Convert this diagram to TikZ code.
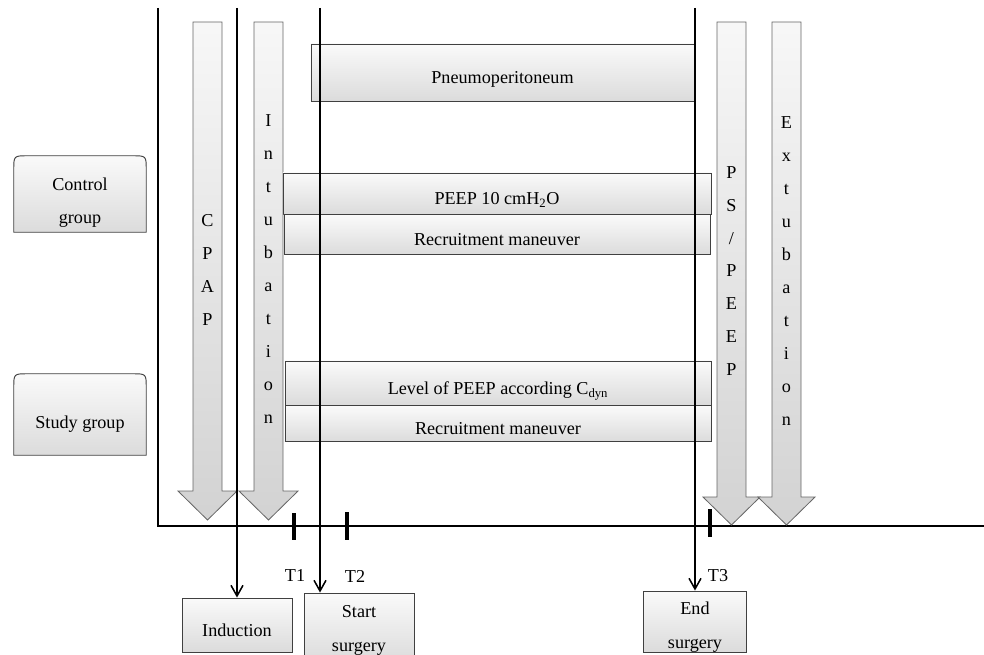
\documentclass[tikz,border=0pt]{standalone}
\usepackage{fontspec}
\setmainfont{Liberation Serif}
\usetikzlibrary{arrows.meta,positioning,calc}
\tikzset{
    bar/.style={draw=black!75, line width=0.8pt, top color=gray!4, bottom color=gray!28, inner sep=0pt, text height=19.8pt, text depth=1pt},
    grpbox/.style={inner sep=0pt, minimum width=3.96cm},
    grpfill/.style={draw=black!75, line width=0.8pt, top color=gray!4, bottom color=gray!28},
    evbox/.style={draw=black!75, line width=0.8pt, top color=gray!4, bottom color=gray!28, inner sep=0pt},
    blkarrow/.style={draw=black!60, line width=0.7pt, top color=gray!6, bottom color=gray!35},
    letters/.style={align=center, font=\fontsize{15.5}{28.1}\selectfont},
    lbl/.style={align=center, font=\fontsize{15.5}{28.5}\selectfont},
    timeline/.style={-{Straight Barb[length=3.2mm, width=3.6mm]}, line width=1.3pt},
    axisline/.style={line width=1.4pt},
    tickmark/.style={line width=3pt}
}

\begin{document}
\begin{tikzpicture}[x=0.03cm, y=-0.03cm, font=\fontsize{15.5}{18}\selectfont]
    \useasboundingbox (0,0) rectangle (984,655);
    \clip (0,0) rectangle (984,655);

    % axes
    \coordinate (ytop) at (158,8);
    \coordinate (xend) at (984,526);
    \draw[axisline] (ytop) |- (xend);

    % block arrows
    \draw[blkarrow] (193,22) -- (222,22) -- (222,491) -- (237,491) -- (207.5,520) -- (178,491) -- (193,491) -- cycle;
    \draw[blkarrow] (254,22) -- (283,22) -- (283,491) -- (298,491) -- (268.5,520) -- (239,491) -- (254,491) -- cycle;
    \draw[blkarrow] (717,22) -- (746,22) -- (746,497) -- (760,497) -- (731.5,525) -- (703,497) -- (717,497) -- cycle;
    \draw[blkarrow] (772,22) -- (801,22) -- (801,497) -- (815,497) -- (786.5,525) -- (758,497) -- (772,497) -- cycle;
    \node[letters] (cpap) at (207.5,270) {C\\P\\A\\P};
    \node[letters] (intub) at (268.5,269) {I\\n\\t\\u\\b\\a\\t\\i\\o\\n};
    \node[letters] (pspeep) at (731.5,271) {P\\S\\/\\P\\E\\E\\P};
    \node[letters] (extub) at (786.5,271) {E\\x\\t\\u\\b\\a\\t\\i\\o\\n};

    % bars
    \node[bar, minimum width=11.49cm, minimum height=1.71cm] (pneumo) at (502.5,72.5) {Pneumoperitoneum};
    \node[bar, minimum width=12.84cm, minimum height=1.23cm] (peep) at (497,193.5) {PEEP 10 cmH\textsubscript{2}O};
    \node[bar, minimum width=12.78cm, minimum height=1.2cm, below=0pt of peep] (recruitctl) {Recruitment maneuver};
    \node[bar, minimum width=12.78cm, minimum height=1.32cm] (level) at (498,383) {Level of PEEP according C\textsubscript{dyn}};
    \node[bar, minimum width=12.78cm, minimum height=1.08cm, below=0pt of level] (recruitstd) {Recruitment maneuver};

    % groups
    \node[grpbox, minimum height=2.28cm] (control) at (80,194) {};
    \node[grpbox, minimum height=2.43cm] (study) at (80,414.5) {};
    \draw[grpfill] (control.south west) -- ($(control.north west)+(0,14)$) .. controls (control.north west) .. ($(control.north west)+(14,0)$)
        -- ($(control.north east)+(-14,0)$) .. controls (control.north east) .. ($(control.north east)+(0,14)$) -- (control.south east) -- cycle;
    \draw[grpfill] (study.south west) -- ($(study.north west)+(0,14)$) .. controls (study.north west) .. ($(study.north west)+(14,0)$)
        -- ($(study.north east)+(-14,0)$) .. controls (study.north east) .. ($(study.north east)+(0,14)$) -- (study.south east) -- cycle;
    \node[lbl] (controltxt) at (80,202.5) {Control\\group};
    \node[lbl] (studytxt) at (80,424.5) {Study group};

    % events
    \node[evbox, minimum width=3.3cm, minimum height=1.62cm] (induction) at (237,625) {};
    \node[evbox, minimum width=3.3cm, minimum height=2.1cm] (start) at (359,628) {};
    \node[evbox, minimum width=3.09cm, minimum height=1.83cm] (endsurg) at (695,621.5) {};
    \node[lbl] (indtxt) at (237,630) {Induction};
    \node[lbl] (starttxt) at (359,630.5) {Start\\surgery};
    \node[lbl] (endtxt) at (695,627) {End\\surgery};

    % time points
    \draw[tickmark] (294,513) -- (294,540);
    \draw[tickmark] (347,512) -- (347,540);
    \draw[tickmark] (710,509) -- (710,537);
    \node (t1) at (295,576) {T1};
    \node (t2) at (355,576) {T2};
    \node (t3) at (718,576) {T3};

    % timelines
    \coordinate (indtop) at (237,8);
    \coordinate (starttop) at (320,8);
    \coordinate (endtop) at (695,8);
    \draw[timeline] (indtop) -- (induction.north);
    \draw[timeline] (starttop) -- (starttop |- start.north);
    \draw[timeline] (endtop) -- (endsurg.north);
\end{tikzpicture}
\end{document}
